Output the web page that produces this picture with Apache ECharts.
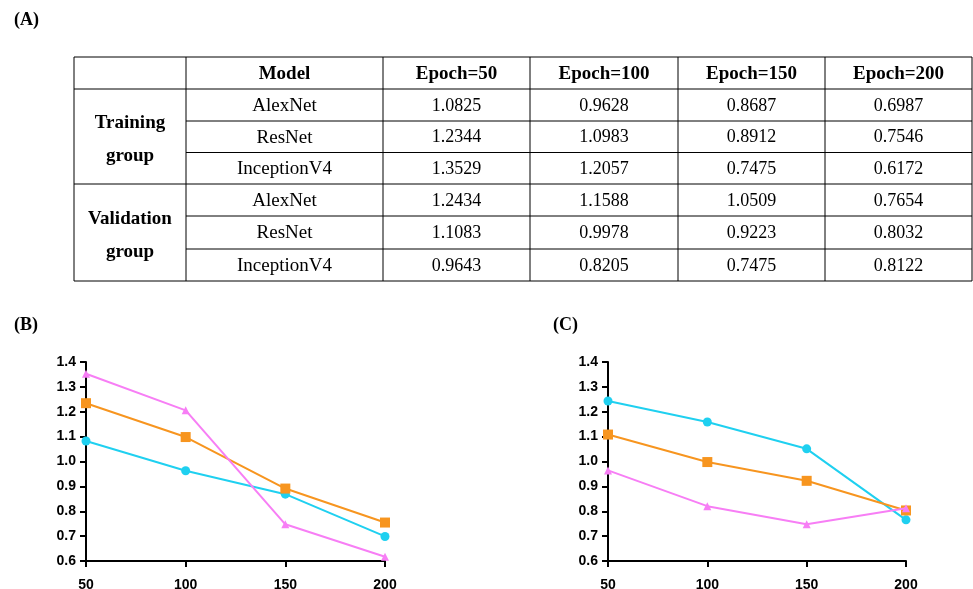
<!DOCTYPE html>
<html>
<head>
<meta charset="utf-8">
<script src="https://cdn.jsdelivr.net/npm/echarts@6/dist/echarts.min.js"></script>
<style>
  html, body { margin: 0; padding: 0; background: #fff; }
  #main { width: 973px; height: 589px; }
</style>
</head>
<body>
<div id="main"></div>
<script>
// data
var epochs = [50, 100, 150, 200];
var models = ['AlexNet', 'ResNet', 'InceptionV4'];
var groups = ['Training\ngroup', 'Validation\ngroup'];
var headers = ['', 'Model', 'Epoch=50', 'Epoch=100', 'Epoch=150', 'Epoch=200'];
var trainAlex = [1.0825, 0.9628, 0.8687, 0.6987];
var trainRes = [1.2344, 1.0983, 0.8912, 0.7546];
var trainIncep = [1.3529, 1.2057, 0.7475, 0.6172];
var valAlex = [1.2434, 1.1588, 1.0509, 0.7654];
var valRes = [1.1083, 0.9978, 0.9223, 0.8032];
var valIncep = [0.9643, 0.8205, 0.7475, 0.8122];

var colors = ['#1fd0f0', '#f7951f', '#f77ef5'];
var symbols = ['circle', 'rect', 'triangle'];

var myChart = echarts.init(document.getElementById('main'));

// table layout
var colX = [74, 186, 383, 530, 678, 825, 972];
var rowY = [57, 89, 121, 152.5, 184, 216, 249, 281];
var serif = '"Liberation Serif", "Times New Roman", serif';
var lineStyle = { stroke: '#000', lineWidth: 1 };

var graphic = [];
function hline(x1, x2, y) {
    graphic.push({ type: 'line', shape: { x1: x1, y1: y, x2: x2, y2: y }, style: lineStyle, silent: true });
}
function vline(x, y1, y2) {
    graphic.push({ type: 'line', shape: { x1: x, y1: y1, x2: x, y2: y2 }, style: lineStyle, silent: true });
}
function cellText(txt, cx, cy, font) {
    graphic.push({
        type: 'text', x: cx, y: cy, silent: true,
        style: {
            text: txt, fill: '#000', align: 'center', verticalAlign: 'middle',
            font: font + ' ' + serif, lineHeight: 33
        }
    });
}

// borders
hline(colX[0], colX[6], rowY[0]);
hline(colX[0], colX[6], rowY[1]);
hline(colX[0], colX[6], rowY[4]);
hline(colX[0], colX[6], rowY[7]);
[2, 3, 5, 6].forEach(function (r) { hline(colX[1], colX[6], rowY[r]); });
colX.forEach(function (x) { vline(x, rowY[0], rowY[7]); });

// header
headers.forEach(function (h, i) {
    if (h) cellText(h, (colX[i] + colX[i + 1]) / 2, (rowY[0] + rowY[1]) / 2 + 1, 'bold 19px');
});
// rows
var tableRows = [trainAlex, trainRes, trainIncep, valAlex, valRes, valIncep];
tableRows.forEach(function (vals, r) {
    var cy = (rowY[r + 1] + rowY[r + 2]) / 2 + 1;
    cellText(models[r % 3], (colX[1] + colX[2]) / 2, cy, '19px');
    vals.forEach(function (v, c) {
        cellText(v.toFixed(4), (colX[c + 2] + colX[c + 3]) / 2, cy, '18px');
    });
});
groups.forEach(function (g, i) {
    cellText(g, (colX[0] + colX[1]) / 2, (rowY[1 + i * 3] + rowY[4 + i * 3]) / 2 + 3, 'bold 19px');
});

// panel letters
[['(A)', 14, 20], ['(B)', 14, 325], ['(C)', 553, 325]].forEach(function (p) {
    graphic.push({
        type: 'text', x: p[1], y: p[2], silent: true,
        style: { text: p[0], fill: '#000', font: 'bold 18px ' + serif, verticalAlign: 'middle' }
    });
});

function pairs(vals) {
    return vals.map(function (v, i) { return [epochs[i], v]; });
}

function makeAxes(gi) {
    var axisLine = { show: true, lineStyle: { color: '#000', width: 2 } };
    var label = { color: '#000', fontWeight: 'bold', fontSize: 14, fontFamily: '"Liberation Sans", Arial, sans-serif' };
    return {
        x: {
            type: 'value', gridIndex: gi, min: 50, max: 200, interval: 50,
            axisLine: axisLine, axisTick: { show: true, length: 6, lineStyle: { color: '#000', width: 2 } },
            axisLabel: Object.assign({ margin: 17 }, label),
            splitLine: { show: false }
        },
        y: {
            type: 'value', gridIndex: gi, min: 0.6, max: 1.4, interval: 0.1,
            axisLine: axisLine, axisTick: { show: true, length: 6, lineStyle: { color: '#000', width: 2 } },
            axisLabel: Object.assign({ margin: 10, formatter: function (v) { return v.toFixed(1); } }, label),
            splitLine: { show: false }
        }
    };
}

var axB = makeAxes(0), axC = makeAxes(1);

function lineSeries(data, k, gi) {
    return {
        type: 'line', xAxisIndex: gi, yAxisIndex: gi,
        data: pairs(data),
        symbol: symbols[k], symbolSize: k === 1 ? 10 : (k === 2 ? 8 : 9),
        showSymbol: true,
        lineStyle: { color: colors[k], width: 2 },
        itemStyle: { color: colors[k] },
        z: 3 + k,
        animation: false
    };
}

var option = {
    backgroundColor: '#fff',
    animation: false,
    grid: [
        { left: 86, right: 588, top: 362, bottom: 28, outerBoundsMode: 'none', containLabel: false },
        { left: 608, right: 67, top: 362, bottom: 28, outerBoundsMode: 'none', containLabel: false }
    ],
    xAxis: [axB.x, axC.x],
    yAxis: [axB.y, axC.y],
    series: [
        lineSeries(trainAlex, 0, 0),
        lineSeries(trainRes, 1, 0),
        lineSeries(trainIncep, 2, 0),
        lineSeries(valAlex, 0, 1),
        lineSeries(valRes, 1, 1),
        lineSeries(valIncep, 2, 1)
    ],
    graphic: graphic
};
myChart.setOption(option);
</script>
</body>
</html>
